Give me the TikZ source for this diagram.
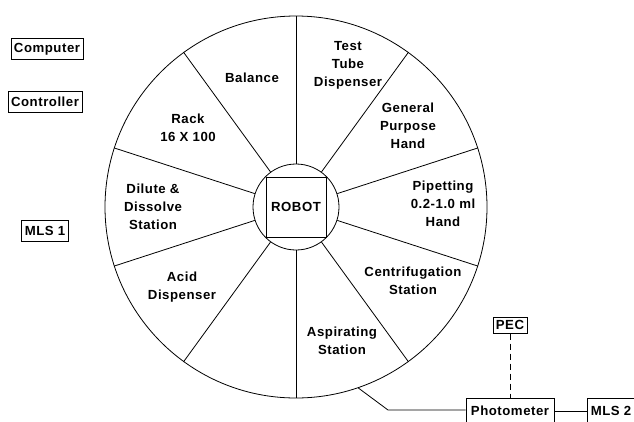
\documentclass[tikz,border=0pt]{standalone}
\usepackage{fontspec}
\setmainfont{Liberation Sans}[LetterSpace=4]
\usetikzlibrary{positioning}

\begin{document}
\begin{tikzpicture}[x=1pt,y=-1pt,line width=0.8pt,
        every node/.style={font=\bfseries\fontsize{13.2}{18}\selectfont},
        unit/.style={draw,inner xsep=3pt,inner ysep=0pt,minimum height=21pt},
        station/.style={align=center}]
        \useasboundingbox (0,0) rectangle (634,421);

        \coordinate (c) at (296,207);
        \node[draw,circle,minimum size=382pt] (wheel) at (c) {};
        \node[draw,circle,minimum size=86pt] (hub) at (c) {};
        \node[draw,minimum size=60pt] (robot) at (c) {ROBOT};

        \foreach \a in {18,54,...,342}{
            \draw (hub.\a)--(wheel.\a);
        }

        \node[station] (balance) at (252,78) {Balance};
        \node[station] (tubes) at (348,65) {Test\\Tube\\Dispenser};
        \node[station] (hand) at (408,126) {General\\Purpose\\Hand};
        \node[station] (pipet) at (443,204) {Pipetting\\0.2-1.0 ml\\Hand};
        \node[station] (centri) at (413,281) {Centrifugation\\Station};
        \node[station] (aspir) at (342,341) {Aspirating\\Station};
        \node[station] (acid) at (182,287) {Acid\\Dispenser};
        \node[station] (dilute) at (153,207) {Dilute \&\\Dissolve\\Station};
        \node[station] (rack) at (188,128) {Rack\\16 X 100};

        \node[unit] (computer) at (47,49) {Computer};
        \node[unit] (controller) at (45,102) {Controller};
        \node[unit] (mls1) at (45,231) {MLS 1};

        \node[unit,minimum height=26pt,inner xsep=5pt] (photo) at (510,411) {Photometer};
        \node[unit,minimum height=16pt,inner ysep=0pt] (pec) [above=64pt of photo] {PEC};
        \node[unit,minimum height=26pt] (mls2) [right=33pt of photo] {MLS 2};

        \coordinate (bend) at (388,410);
        \draw (wheel.-71)--(bend)--(bend-|photo.west);
        \draw[dash pattern=on 6pt off 4pt] (pec)--(photo);
        \draw (photo)--(mls2);
    \end{tikzpicture}
\end{document}
